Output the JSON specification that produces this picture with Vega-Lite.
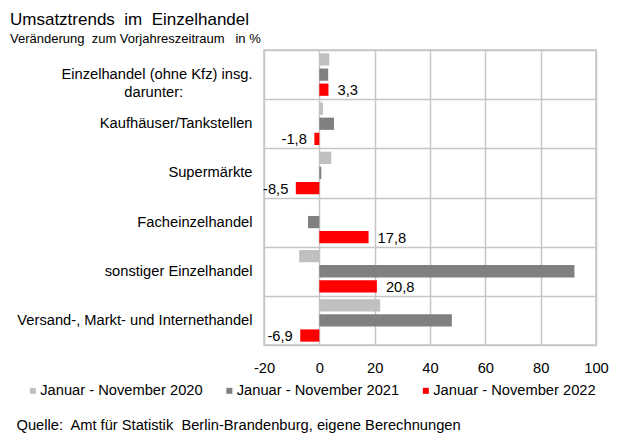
{
  "$schema": "https://vega.github.io/schema/vega-lite/v6.json",
  "autosize": {"type": "none"},
  "width": 332,
  "height": 295,
  "padding": {"left": 264, "top": 50, "right": 22, "bottom": 89},
  "background": "white",
  "title": {
    "text": "Umsatztrends\u00a0 im\u00a0 Einzelhandel",
    "subtitle": "Veränderung\u00a0 zum Vorjahreszeitraum\u00a0\u00a0 in %",
    "anchor": "start",
    "frame": "group",
    "dx": -254,
    "fontSize": 17,
    "fontWeight": "normal",
    "color": "#000000",
    "subtitleFontSize": 13,
    "subtitleColor": "#000000",
    "subtitlePadding": 4,
    "offset": -5
  },
  "data": {
    "values": [
      {"Kategorie": "Einzelhandel (ohne Kfz) insg.\ndarunter:", "Zeitraum": "Januar - November 2020", "Wert": 3.6},
      {"Kategorie": "Einzelhandel (ohne Kfz) insg.\ndarunter:", "Zeitraum": "Januar - November 2021", "Wert": 3.2},
      {"Kategorie": "Einzelhandel (ohne Kfz) insg.\ndarunter:", "Zeitraum": "Januar - November 2022", "Wert": 3.3},
      {"Kategorie": "Kaufhäuser/Tankstellen", "Zeitraum": "Januar - November 2020", "Wert": 1.3},
      {"Kategorie": "Kaufhäuser/Tankstellen", "Zeitraum": "Januar - November 2021", "Wert": 5.3},
      {"Kategorie": "Kaufhäuser/Tankstellen", "Zeitraum": "Januar - November 2022", "Wert": -1.8},
      {"Kategorie": "Supermärkte", "Zeitraum": "Januar - November 2020", "Wert": 4.3},
      {"Kategorie": "Supermärkte", "Zeitraum": "Januar - November 2021", "Wert": 0.7},
      {"Kategorie": "Supermärkte", "Zeitraum": "Januar - November 2022", "Wert": -8.5},
      {"Kategorie": "Facheinzelhandel", "Zeitraum": "Januar - November 2020", "Wert": 0.0},
      {"Kategorie": "Facheinzelhandel", "Zeitraum": "Januar - November 2021", "Wert": -4.1},
      {"Kategorie": "Facheinzelhandel", "Zeitraum": "Januar - November 2022", "Wert": 17.8},
      {"Kategorie": "sonstiger Einzelhandel", "Zeitraum": "Januar - November 2020", "Wert": -7.3},
      {"Kategorie": "sonstiger Einzelhandel", "Zeitraum": "Januar - November 2021", "Wert": 92.2},
      {"Kategorie": "sonstiger Einzelhandel", "Zeitraum": "Januar - November 2022", "Wert": 20.8},
      {"Kategorie": "Versand-, Markt- und Internethandel", "Zeitraum": "Januar - November 2020", "Wert": 22.0},
      {"Kategorie": "Versand-, Markt- und Internethandel", "Zeitraum": "Januar - November 2021", "Wert": 47.9},
      {"Kategorie": "Versand-, Markt- und Internethandel", "Zeitraum": "Januar - November 2022", "Wert": -6.9}
    ]
  },
  "encoding": {
    "y": {
      "field": "Kategorie",
      "type": "nominal",
      "sort": ["Einzelhandel (ohne Kfz) insg.\ndarunter:", "Kaufhäuser/Tankstellen", "Supermärkte", "Facheinzelhandel", "sonstiger Einzelhandel", "Versand-, Markt- und Internethandel"],
      "scale": {"paddingInner": 0, "paddingOuter": 0},
      "axis": {
        "title": null,
        "labelFontSize": 14.7,
        "labelColor": "#000000",
        "ticks": false,
        "tickSize": 0,
        "domain": false,
        "grid": true,
        "tickBand": "extent",
        "labelLimit": 300,
        "labelLineHeight": 17.6,
        "labelPadding": 12,
        "labelAlign": "right",
        "labelExpr": "indexof(datum.label, '\\n') >= 0 ? ['Einzelhandel (ohne Kfz) insg.', 'darunter:\u00a0\u00a0\u00a0\u00a0\u00a0\u00a0\u00a0\u00a0\u00a0\u00a0\u00a0\u00a0\u00a0\u00a0\u00a0\u00a0\u00a0\u200b'] : datum.label"
      }
    },
    "yOffset": {
      "field": "Zeitraum",
      "type": "nominal",
      "sort": ["Januar - November 2020", "Januar - November 2021", "Januar - November 2022"],
      "scale": {"paddingInner": 0.19, "paddingOuter": 0.22}
    },
    "x": {
      "field": "Wert",
      "type": "quantitative",
      "scale": {"domain": [-20, 100], "nice": false, "zero": false},
      "axis": {
        "values": [-20, 0, 20, 40, 60, 80, 100],
        "format": "d",
        "title": "Quelle:\u00a0 Amt für Statistik\u00a0 Berlin-Brandenburg, eigene Berechnungen",
        "titleX": -248,
        "titleY": 84,
        "titleAlign": "left",
        "titleAnchor": "start",
        "titleBaseline": "alphabetic",
        "titleFontSize": 14.7,
        "titleFontWeight": "normal",
        "titleColor": "#000000",
        "labelFontSize": 14.7,
        "labelColor": "#000000",
        "labelPadding": 15,
        "labelFlush": false,
        "labelOverlap": false,
        "ticks": false,
        "tickSize": 0,
        "domain": false,
        "grid": true
      }
    }
  },
  "layer": [
    {
      "mark": {"type": "bar"},
      "encoding": {
        "color": {
          "field": "Zeitraum",
          "type": "nominal",
          "scale": {
            "domain": ["Januar - November 2020", "Januar - November 2021", "Januar - November 2022"],
            "range": ["#c0c0c0", "#808080", "#ff0000"]
          },
          "legend": {
            "orient": "none",
            "legendX": -238.5,
            "legendY": 333,
            "direction": "horizontal",
            "title": null,
            "symbolType": "square",
            "symbolSize": 36,
            "symbolStrokeWidth": 0,
            "labelFontSize": 14.7,
            "labelColor": "#000000",
            "labelLimit": 300,
            "labelOffset": 0,
            "columnPadding": 18.5,
            "padding": 0
          }
        }
      }
    },
    {
      "transform": [{"filter": "datum.Zeitraum == 'Januar - November 2022' && datum.Wert >= 0"}],
      "mark": {"type": "text", "align": "left", "baseline": "middle", "dx": 9, "dy": 1.5, "fontSize": 14.7, "color": "#000000"},
      "encoding": {"text": {"field": "Wert", "type": "quantitative", "format": ".1f"}}
    },
    {
      "transform": [{"filter": "datum.Zeitraum == 'Januar - November 2022' && datum.Wert < 0"}],
      "mark": {"type": "text", "align": "right", "baseline": "middle", "dx": -7.5, "dy": 1.5, "fontSize": 14.7, "color": "#000000"},
      "encoding": {"text": {"field": "Wert", "type": "quantitative", "format": ".1f"}}
    }
  ],
  "config": {
    "font": "Liberation Sans",
    "view": {"stroke": "#c6c6c6", "strokeWidth": 1.5},
    "axis": {"gridColor": "#c6c6c6", "gridWidth": 1.5, "gridOpacity": 1},
    "locale": {
      "number": {"decimal": ",", "thousands": ".", "grouping": [3], "currency": ["", " €"], "minus": "-"}
    }
  }
}
